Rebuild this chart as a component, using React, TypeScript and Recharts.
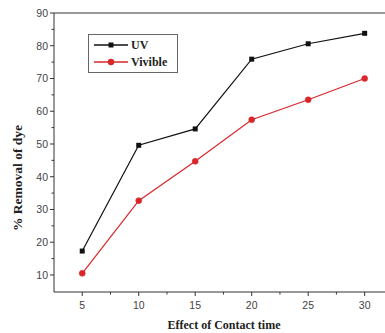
import React from "react";
import { LineChart, Line, XAxis, YAxis, ReferenceLine } from "recharts";

const contactTimes = [5, 10, 15, 20, 25, 30];
const uvRemoval = [17.3, 49.6, 54.6, 75.9, 80.6, 83.8];
const visibleRemoval = [10.5, 32.7, 44.7, 57.4, 63.5, 70.0];
const xTicks = [5, 7.5, 10, 12.5, 15, 17.5, 20, 22.5, 25, 27.5, 30];
const yTicks = [10, 15, 20, 25, 30, 35, 40, 45, 50, 55, 60, 65, 70, 75, 80, 85, 90];
const seriesNames = ["UV", "Vivible"];

const data = contactTimes.map((t, i) => ({
  time: t,
  uv: uvRemoval[i],
  visible: visibleRemoval[i],
}));

const axisColor = "#333";
const tickFont = "'Liberation Sans', Arial, sans-serif";
const labelFont = "'Liberation Serif', 'Times New Roman', serif";

const XTick = (props: any) => {
  const { x, y, payload } = props;
  const major = payload.value % 5 === 0;
  return (
    <g>
      <line x1={x} x2={x} y1={y} y2={y + (major ? 4 : 2.5)} stroke={axisColor} />
      {major && (
        <text x={x} y={y + 17} textAnchor="middle" fontSize={10.5} fill="#444" fontFamily={tickFont}>
          {payload.value}
        </text>
      )}
    </g>
  );
};

const YTick = (props: any) => {
  const { x, y, payload } = props;
  const major = payload.value % 10 === 0;
  return (
    <g>
      <line x1={x} x2={x - (major ? 4 : 2.5)} y1={y} y2={y} stroke={axisColor} />
      {major && (
        <text x={x - 6} y={y + 4} textAnchor="end" fontSize={10.5} fill="#444" fontFamily={tickFont}>
          {payload.value}
        </text>
      )}
    </g>
  );
};

const SquareDot = (props: any) => {
  const { cx, cy, index } = props;
  return <rect key={"sq" + index} x={cx - 2.5} y={cy - 2.5} width={5} height={5} fill="#111" />;
};

const XLabel = () => (
  <text x={224} y={329} textAnchor="middle" fontSize={12} fontWeight="bold" fontFamily={labelFont} fill="#222">
    Effect of Contact time
  </text>
);

const YLabel = () => (
  <text
    transform="translate(22,178) rotate(-90)"
    textAnchor="middle"
    fontSize={13.5}
    fontWeight="bold"
    fontFamily={labelFont}
    fill="#222"
  >
    % Removal of dye
  </text>
);

const LegendBox = () => (
  <svg width={90} height={39} style={{ position: "absolute", left: 88, top: 34 }}>
    <rect x={0.5} y={0.5} width={89} height={38} fill="#fff" stroke="#666" />
    <line x1={6} x2={40} y1={11} y2={11} stroke="#111" strokeWidth={1.3} />
    <rect x={20.5} y={8.5} width={5} height={5} fill="#111" />
    <text x={43} y={15} fontSize={12} fontWeight="bold" fontFamily={labelFont} fill="#222">
      {seriesNames[0]}
    </text>
    <line x1={6} x2={40} y1={28} y2={28} stroke="#d9262b" strokeWidth={1.3} />
    <circle cx={23} cy={28} r={3.2} fill="#d9262b" />
    <text x={43} y={32} fontSize={12} fontWeight="bold" fontFamily={labelFont} fill="#222">
      {seriesNames[1]}
    </text>
  </svg>
);

export default function App() {
  return (
    <div style={{ position: "absolute", left: 0, top: 0, width: 385, height: 333, background: "#fff" }}>
      <LineChart width={385} height={333} data={data} margin={{ top: 13, right: 0, bottom: 0, left: 0 }}>
        <XAxis
          dataKey="time"
          type="number"
          domain={[2.5, 31.8]}
          allowDataOverflow
          ticks={xTicks}
          interval={0}
          height={41}
          stroke={axisColor}
          tickLine={false}
          tickSize={0}
          tickMargin={0}
          tick={<XTick />}
          label={<XLabel />}
        />
        <YAxis
          type="number"
          domain={[4.8, 90]}
          allowDataOverflow
          ticks={yTicks}
          interval={0}
          width={54}
          stroke={axisColor}
          tickLine={false}
          tickSize={0}
          tickMargin={0}
          tick={<YTick />}
          label={<YLabel />}
        />
        <ReferenceLine y={90} stroke={axisColor} />
        <Line
          dataKey="uv"
          name={seriesNames[0]}
          stroke="#111"
          strokeWidth={1.2}
          dot={<SquareDot />}
          isAnimationActive={false}
        />
        <Line
          dataKey="visible"
          name={seriesNames[1]}
          stroke="#d9262b"
          strokeWidth={1.2}
          dot={{ r: 3, fill: "#d9262b", stroke: "#d9262b", strokeWidth: 0.5 }}
          isAnimationActive={false}
        />
      </LineChart>
      <LegendBox />
    </div>
  );
}
